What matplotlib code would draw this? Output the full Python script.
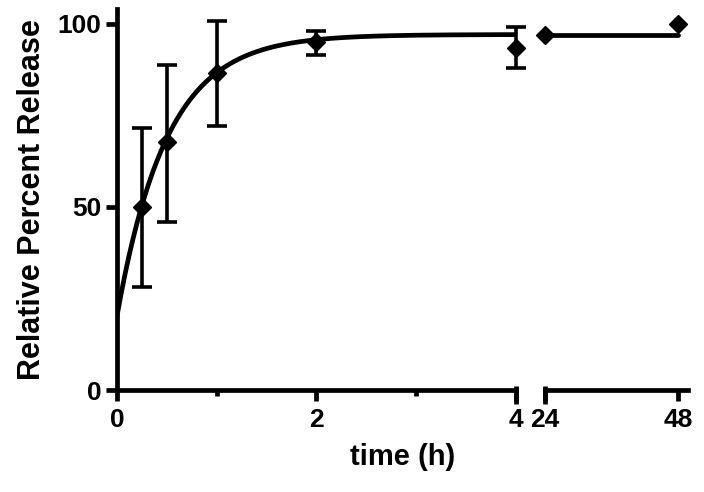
import numpy as np
import matplotlib
matplotlib.use('Agg')
from matplotlib import pyplot as plt

plt.rcParams['font.family'] = ['Liberation Sans', 'DejaVu Sans']
plt.rcParams['font.weight'] = 'bold'

# early time points (h) with mean and error bounds
t_early = [0.25, 0.5, 1, 2, 4]
rel_early = [50, 67.7, 86.6, 95, 93.4]
err_hi = [71.5, 88.8, 100.8, 98, 99]
err_lo = [28, 46, 72, 91.5, 88]

# late time points (h)
t_late = [24, 48]
rel_late = [97, 99.8]

# one-phase association fit
y0 = 20
plateau = 97
k = 2.0

yerr = [np.array(rel_early) - np.array(err_lo), np.array(err_hi) - np.array(rel_early)]

fig = plt.figure(figsize=(7.04, 4.92), dpi=100)
ax1 = fig.add_axes([0.166, 0.207, 0.567, 0.775])
ax2 = fig.add_axes([0.774, 0.207, 0.203, 0.775])

lw = 3.4
tt = np.linspace(0, 4, 200)
ax1.plot(tt, y0 + (plateau - y0) * (1 - np.exp(-k * tt)), color='black', lw=lw, solid_capstyle='butt')
ax1.errorbar(t_early, rel_early, yerr=yerr, fmt='D', color='black', ms=9,
             elinewidth=2.6, capsize=7, capthick=2.6, clip_on=False)

ax2.plot([24, 48], [plateau, plateau], color='black', lw=lw, solid_capstyle='round')
ax2.plot(t_late, rel_late, 'D', color='black', ms=9, clip_on=False)

for ax in (ax1, ax2):
    ax.set_ylim(0, 104)
    for s in ('top', 'right'):
        ax.spines[s].set_visible(False)
    for s in ('left', 'bottom'):
        ax.spines[s].set_linewidth(lw)
    ax.tick_params(width=lw, length=8, labelsize=19, direction='out', pad=5)
    ax.tick_params(which='minor', width=lw, length=4)

ax1.set_xlim(0, 4)
ax1.set_xticks([0, 2, 4])
ax1.set_xticks([1, 3], minor=True)
ax1.set_yticks([0, 50, 100])
ax1.tick_params(axis='y', pad=3)
ax1.set_ylabel('Relative Percent Release', fontsize=22, fontweight='bold', labelpad=8)

ax2.set_xlim(24, 49.8)
ax2.set_xticks([24, 48])
ax2.spines['left'].set_visible(False)
ax2.tick_params(axis='y', left=False, labelleft=False)

# break marks
ax1.plot([1, 1], [-0.035, 0.012], transform=ax1.transAxes, color='black', lw=lw, clip_on=False, solid_capstyle='butt')
ax2.plot([0, 0], [-0.035, 0.012], transform=ax2.transAxes, color='black', lw=lw, clip_on=False, solid_capstyle='butt')

for lab in ax1.get_xticklabels() + ax1.get_yticklabels() + ax2.get_xticklabels():
    lab.set_fontweight('bold')

fig.text(0.572, 0.042, 'time (h)', ha='center', va='bottom', fontsize=21, fontweight='bold')

fig.savefig('out.png', dpi=100)
